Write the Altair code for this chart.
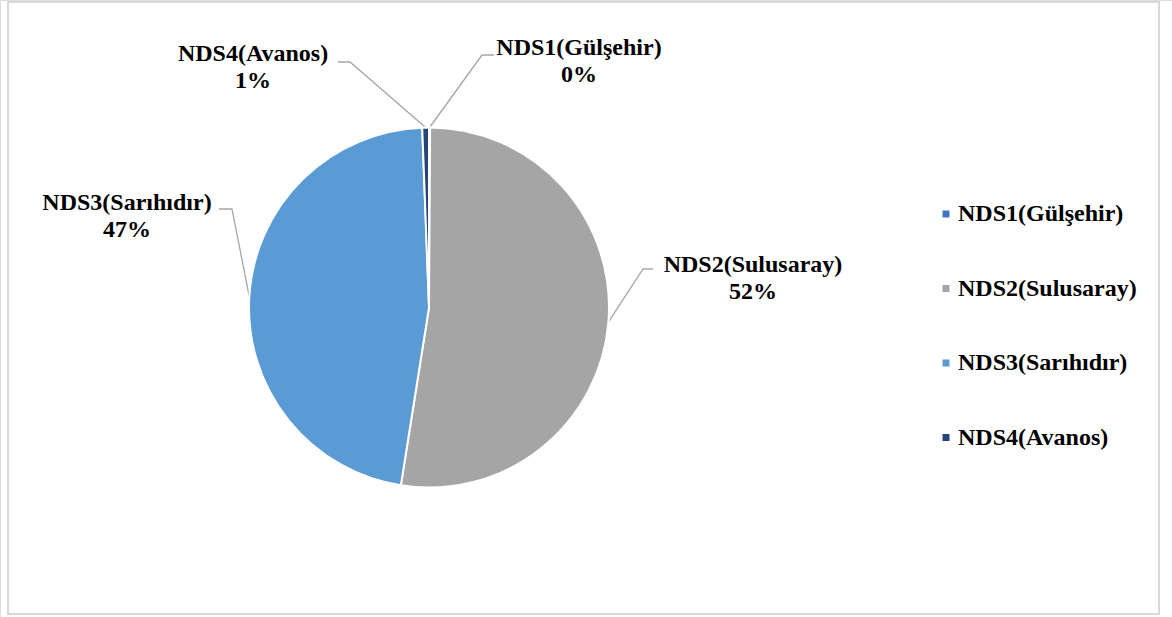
import math
import altair as alt
import pandas as pd

# Share of each station (percent)
stations = ["NDS1(Gülşehir)", "NDS2(Sulusaray)", "NDS3(Sarıhıdır)", "NDS4(Avanos)"]
shares = [0.1, 52.4, 46.9, 0.6]
colors = ["#4472C4", "#A5A5A5", "#5B9BD5", "#264478"]

# Canvas and pie geometry
W, H = 1172, 617
CX, CY, R = 429, 307.5, 180
FONT = "Liberation Serif"
FS = 24

total = sum(shares)
rows = []
cum = 0.0
for i, (name, v) in enumerate(zip(stations, shares)):
    mid = (cum + v / 2) / total * 2 * math.pi
    cum += v
    rows.append({
        "station": name,
        "share": v,
        "idx": i,
        "pct": f"{round(v / total * 100)}%",
        "ex": CX + R * math.sin(mid),
        "ey": CY - R * math.cos(mid),
    })
df = pd.DataFrame(rows)

# Label placement: text centre (first line), leader start and elbow
label_pos = {
    "NDS1(Gülşehir)": dict(tx=579, ty=48, lx=494, ly=55, bx=482, by=55),
    "NDS2(Sulusaray)": dict(tx=753, ty=265, lx=653, ly=269, bx=643, by=269),
    "NDS3(Sarıhıdır)": dict(tx=127, ty=203, lx=219, ly=209, bx=232, by=209),
    "NDS4(Avanos)": dict(tx=253, ty=54, lx=338, ly=62, bx=350, by=62),
}

labels = df.copy()
labels["tx"] = labels["station"].map(lambda s: label_pos[s]["tx"])
labels["ty"] = labels["station"].map(lambda s: label_pos[s]["ty"])
labels["text"] = labels["station"] + "\n" + labels["pct"]

lead_rows = []
for r in rows:
    p = label_pos[r["station"]]
    lead_rows += [
        {"station": r["station"], "k": 0, "x": p["lx"], "y": p["ly"]},
        {"station": r["station"], "k": 1, "x": p["bx"], "y": p["by"]},
        {"station": r["station"], "k": 2, "x": r["ex"], "y": r["ey"]},
    ]
leaders = pd.DataFrame(lead_rows)

xs = alt.Scale(domain=[0, W], range=[0, W])
ys = alt.Scale(domain=[0, H], range=[0, H])

pie = alt.Chart(df).mark_arc(outerRadius=R, stroke="white", strokeWidth=2).encode(
    theta=alt.Theta("share:Q", stack=True),
    order=alt.Order("idx:Q"),
    color=alt.Color(
        "station:N",
        scale=alt.Scale(domain=stations, range=colors),
        sort=stations,
        legend=alt.Legend(
            title=None,
            orient="none",
            legendX=934,
            legendY=202,
            symbolType="square",
            symbolSize=49,
            symbolStrokeWidth=0,
            labelFont=FONT,
            labelFontSize=FS,
            labelFontWeight="bold",
            labelColor="black",
            labelOffset=0,
            rowPadding=50.5,
            padding=0,
            labelLimit=300,
        ),
    ),
    x=alt.value(CX),
    y=alt.value(CY),
)

lines = alt.Chart(leaders).mark_line(color="#A6A6A6", strokeWidth=1.3).encode(
    x=alt.X("x:Q", scale=xs, axis=None),
    y=alt.Y("y:Q", scale=ys, axis=None),
    detail="station:N",
    order="k:Q",
)

text = alt.Chart(labels).mark_text(
    font=FONT, fontSize=FS, fontWeight="bold", color="black",
    lineBreak="\n", lineHeight=27, align="center", baseline="middle",
).encode(
    x=alt.X("tx:Q", scale=xs, axis=None),
    y=alt.Y("ty:Q", scale=ys, axis=None),
    text="text:N",
)

frame = alt.Chart(pd.DataFrame({"a": [0]})).mark_rect(
    fill=None, stroke="#D9D9D9", strokeWidth=2
).encode(
    x=alt.value(8), x2=alt.value(1159), y=alt.value(2), y2=alt.value(614)
)

chart = (
    alt.layer(frame, lines, pie, text)
    .resolve_scale(color="independent")
    .properties(width=W, height=H, padding=0, autosize=alt.AutoSizeParams(type="none"))
    .configure_view(stroke=None)
    .configure(background="white")
)

chart.save("out.html", embed_options={"renderer": "svg", "actions": False})
